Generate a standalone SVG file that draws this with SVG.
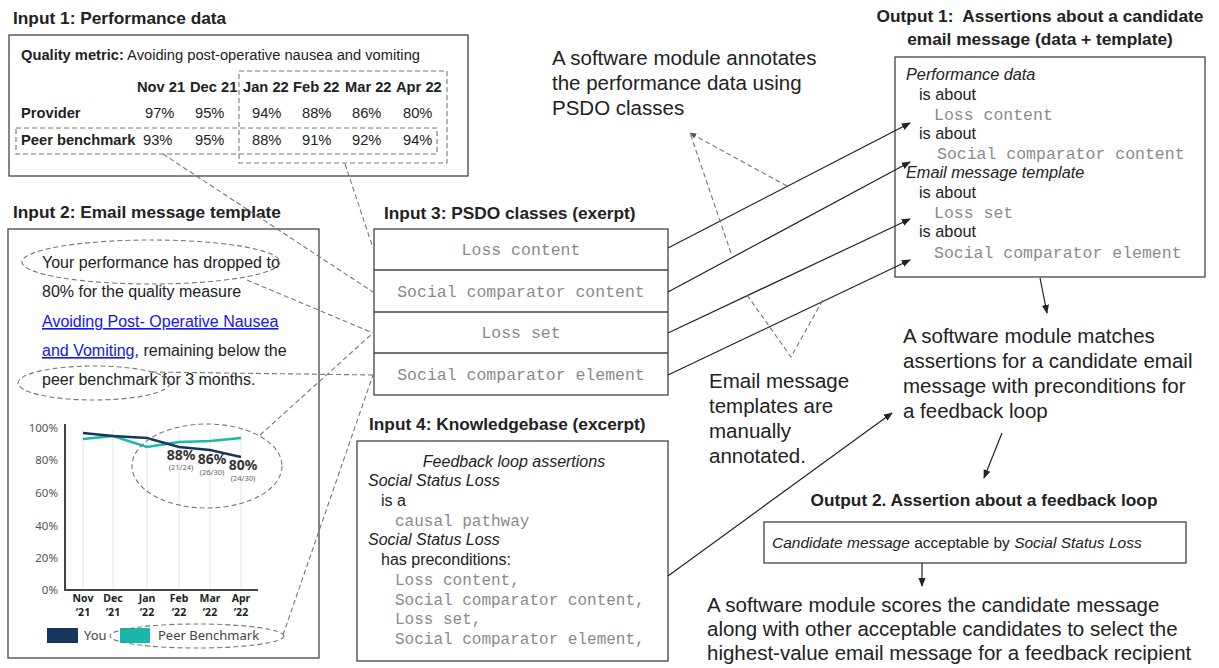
<svg xmlns="http://www.w3.org/2000/svg" width="1219" height="668" viewBox="0 0 1219 668">
<defs>
<marker id="arr" viewBox="0 0 10 10" refX="9" refY="5" markerWidth="9" markerHeight="9" orient="auto" markerUnits="userSpaceOnUse"><path d="M0,1 L10,5 L0,9 z" fill="#222"/></marker>
<marker id="arrd" viewBox="0 0 10 10" refX="9" refY="5" markerWidth="7" markerHeight="7" orient="auto" markerUnits="userSpaceOnUse"><path d="M0,1 L10,5 L0,9 z" fill="#555"/></marker>
</defs>
<style>
.t{font-family:"Liberation Sans",Arial,sans-serif;fill:#222}
.h{font-weight:bold;font-size:17.3px}
.b{font-weight:bold}
.i{font-style:italic}
.m{font-family:"Liberation Mono","Courier New",monospace;fill:#8a8a8a}
.box{fill:#fff;stroke:#444;stroke-width:1.3}
.dash{fill:none;stroke:#777;stroke-width:1.1;stroke-dasharray:5 3}
.con{fill:none;stroke:#222;stroke-width:1.2}
.c{font-family:"Noto Sans",Lato,sans-serif}
.big{font-size:20.5px}
</style>
<rect width="1219" height="668" fill="#fff"/>

<g id="input1">
<text class="t h" x="13" y="24">Input 1: Performance data</text>
<rect class="box" x="9" y="35" width="459" height="141"/>
<g class="t" font-size="14.7">
<text x="21" y="60"><tspan class="b">Quality metric:</tspan> Avoiding post-operative nausea and vomiting</text>
<g class="b">
<text x="137" y="92">Nov 21</text><text x="190" y="92">Dec 21</text><text x="243" y="92">Jan 22</text><text x="293" y="92">Feb 22</text><text x="345" y="92">Mar 22</text><text x="396" y="92">Apr 22</text>
<text x="21" y="118">Provider</text>
<text x="21" y="145">Peer benchmark</text>
</g>
<text x="145" y="118">97%</text><text x="195" y="118">95%</text><text x="252" y="118">94%</text><text x="302" y="118">88%</text><text x="352" y="118">86%</text><text x="403" y="118">80%</text>
<text x="143" y="145">93%</text><text x="195" y="145">95%</text><text x="252" y="145">88%</text><text x="302" y="145">91%</text><text x="352" y="145">92%</text><text x="403" y="145">94%</text>
</g>
<rect class="dash" x="16" y="128" width="421" height="26"/>
<rect class="dash" x="239" y="71" width="208" height="92"/>
</g>

<g id="input2">
<text class="t h" x="13" y="218">Input 2: Email message template</text>
<rect class="box" x="8" y="229" width="311" height="429"/>
<g class="t" font-size="16">
<text x="42" y="268">Your performance has dropped to</text>
<text x="42" y="297">80% for the quality measure</text>
<text x="42" y="327" fill="#1515ee" text-decoration="underline">Avoiding Post- Operative Nausea</text>
<text x="42" y="356"><tspan fill="#1515ee" text-decoration="underline">and Vomiting</tspan>, remaining below the</text>
<text x="42" y="385">peer benchmark for 3 months.</text>
</g>
<ellipse class="dash" cx="151" cy="262" rx="129" ry="22"/>
<ellipse class="dash" cx="94" cy="383" rx="76" ry="17"/>
<g id="chart">
<g stroke="#e6e6e6" stroke-width="1">
<line x1="83" y1="430" x2="83" y2="590"/><line x1="113" y1="430" x2="113" y2="590"/><line x1="147" y1="430" x2="147" y2="590"/><line x1="179" y1="430" x2="179" y2="590"/><line x1="210" y1="430" x2="210" y2="590"/><line x1="241" y1="430" x2="241" y2="590"/>
</g>
<path d="M65,424 V590 H258" fill="none" stroke="#444" stroke-width="2"/>
<g class="c" font-size="11.5" fill="#555" text-anchor="end">
<text x="58" y="432">100%</text><text x="58" y="464">80%</text><text x="58" y="497">60%</text><text x="58" y="530">40%</text><text x="58" y="562">20%</text><text x="58" y="594">0%</text>
</g>
<polyline points="83,439 113,436 147,447 179,442 210,441 241,438" fill="none" stroke="#1ab8aa" stroke-width="2.4"/>
<polyline points="83,433 113,436 147,438 179,447 210,450 241,457" fill="none" stroke="#17365d" stroke-width="2.4"/>
<g class="c" fill="#333" text-anchor="middle">
<g font-size="14" font-weight="bold"><text x="181" y="460">88%</text><text x="212" y="464">86%</text><text x="243" y="470">80%</text></g>
<g font-size="7.5" fill="#666"><text x="181" y="470">(21/24)</text><text x="212" y="475">(26/30)</text><text x="243" y="481">(24/30)</text></g>
<g font-size="10.5" font-weight="bold" fill="#222">
<text x="83" y="602">Nov</text><text x="113" y="602">Dec</text><text x="147" y="602">Jan</text><text x="179" y="602">Feb</text><text x="210" y="602">Mar</text><text x="241" y="602">Apr</text>
<text x="83" y="616">‘21</text><text x="113" y="616">‘21</text><text x="147" y="616">‘22</text><text x="179" y="616">‘22</text><text x="210" y="616">‘22</text><text x="241" y="616">‘22</text>
</g>
</g>
<rect x="47" y="628" width="31" height="15" fill="#17365d"/>
<text class="c" x="84" y="640" font-size="13" fill="#444">You</text>
<rect x="120" y="628" width="30" height="15" fill="#1ab8aa"/>
<text class="c" x="158" y="640" font-size="13" fill="#444">Peer Benchmark</text>
<ellipse class="dash" cx="207" cy="466" rx="75" ry="42"/>
<ellipse class="dash" cx="197" cy="636" rx="87" ry="12"/>
</g>
</g>

<g id="input3">
<text class="t h" x="384" y="219">Input 3: PSDO classes (exerpt)</text>
<rect class="box" x="374" y="229" width="294" height="166"/>
<g stroke="#444" stroke-width="1.3"><line x1="374" y1="270" x2="668" y2="270"/><line x1="374" y1="312" x2="668" y2="312"/><line x1="374" y1="353" x2="668" y2="353"/></g>
<g class="m" font-size="16.5" text-anchor="middle">
<text x="521" y="255">Loss content</text>
<text x="521" y="297">Social comparator content</text>
<text x="521" y="338">Loss set</text>
<text x="521" y="380">Social comparator element</text>
</g>
</g>

<g id="input4">
<text class="t h" x="369" y="430">Input 4: Knowledgebase (excerpt)</text>
<rect class="box" x="357" y="441" width="311" height="220"/>
<g class="t" font-size="16">
<text class="i" x="514" y="467" text-anchor="middle">Feedback loop assertions</text>
<text class="i" x="368" y="486">Social Status Loss</text>
<text x="381" y="506">is a</text>
<text class="i" x="368" y="545">Social Status Loss</text>
<text x="381" y="565">has preconditions:</text>
</g>
<g class="m" font-size="16">
<text x="395" y="526">causal pathway</text>
<text x="395" y="585">Loss content,</text>
<text x="395" y="605">Social comparator content,</text>
<text x="395" y="624">Loss set,</text>
<text x="395" y="644">Social comparator element,</text>
</g>
</g>

<g id="output1">
<text class="t h" x="1040" y="22" text-anchor="middle">Output 1:&#160; Assertions about a candidate</text>
<text class="t h" x="1040" y="45" text-anchor="middle">email message (data + template)</text>
<rect class="box" x="895" y="57" width="310" height="220"/>
<g class="t" font-size="16.3">
<text class="i" x="906" y="80">Performance data</text>
<text x="919" y="100">is about</text>
<text x="919" y="139">is about</text>
<text class="i" x="906" y="178">Email message template</text>
<text x="919" y="198">is about</text>
<text x="919" y="237">is about</text>
</g>
<g class="m" font-size="16.5">
<text x="934" y="120">Loss content</text>
<text x="937" y="159">Social comparator content</text>
<text x="934" y="218">Loss set</text>
<text x="934" y="258">Social comparator element</text>
</g>
</g>

<g id="output2">
<text class="t h" x="984" y="506" text-anchor="middle">Output 2. Assertion about a feedback loop</text>
<rect class="box" x="764" y="522" width="422" height="41"/>
<text class="t" x="772" y="548" font-size="15.5"><tspan class="i">Candidate message</tspan> acceptable by <tspan class="i">Social Status Loss</tspan></text>
</g>

<g id="notes" class="t big">
<text x="552" y="65">A software module annotates</text>
<text x="552" y="90">the performance data using</text>
<text x="552" y="115">PSDO classes</text>
<text x="709" y="388">Email message</text>
<text x="709" y="413">templates are</text>
<text x="709" y="438">manually</text>
<text x="709" y="463">annotated.</text>
<text x="903" y="343">A software module matches</text>
<text x="903" y="368">assertions for a candidate email</text>
<text x="903" y="393">message with preconditions for</text>
<text x="903" y="418">a feedback loop</text>
<text x="707" y="612">A software module scores the candidate message</text>
<text x="707" y="636">along with other acceptable candidates to select the</text>
<text x="707" y="660">highest-value email message for a feedback recipient</text>
</g>

<g id="connectors">
<line class="dash" x1="163" y1="154" x2="373" y2="292"/>
<line class="dash" x1="345" y1="164" x2="373" y2="248"/>
<line class="dash" x1="247" y1="280" x2="373" y2="333"/>
<line class="dash" x1="260" y1="435" x2="373" y2="333"/>
<line class="dash" x1="152" y1="372" x2="373" y2="375"/>
<line class="dash" x1="283" y1="635" x2="373" y2="375"/>
<line class="con" x1="668" y1="248" x2="910" y2="123" marker-end="url(#arr)"/>
<line class="con" x1="668" y1="292" x2="910" y2="162" marker-end="url(#arr)"/>
<line class="con" x1="668" y1="333" x2="910" y2="219" marker-end="url(#arr)"/>
<line class="con" x1="668" y1="375" x2="910" y2="260" marker-end="url(#arr)"/>
<line class="con" x1="668" y1="576" x2="892" y2="413" marker-end="url(#arr)"/>
<line class="con" x1="1040" y1="278" x2="1047" y2="313" marker-end="url(#arr)"/>
<line class="con" x1="1002" y1="433" x2="984" y2="478" marker-end="url(#arr)"/>
<line class="con" x1="922" y1="563" x2="922" y2="586" marker-end="url(#arr)"/>
<line class="dash" x1="787" y1="186" x2="690" y2="133" marker-end="url(#arrd)"/>
<line class="dash" x1="731" y1="253" x2="690" y2="133"/>
<polyline class="dash" points="747,295 791,357 824,298"/>
</g>
</svg>
